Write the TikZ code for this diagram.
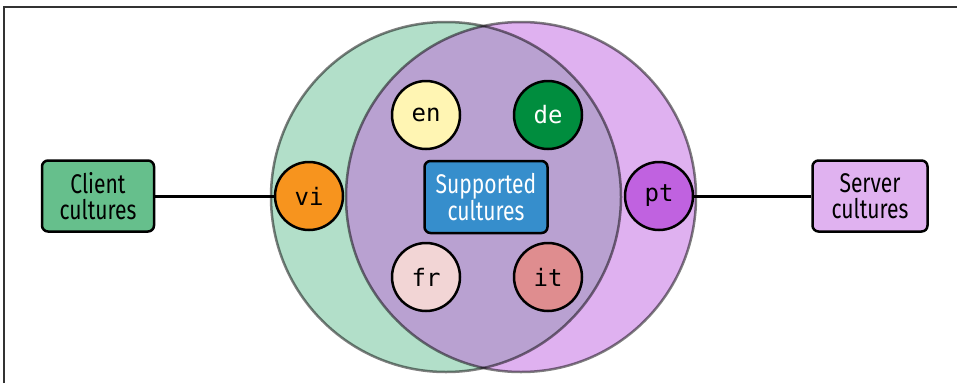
\documentclass[tikz,border=0pt]{standalone}
\usepackage{fontspec}
\setmainfont{Fira Sans}[FakeStretch=0.78]
\setmonofont{DejaVu Sans Mono}
\definecolor{clientgreen}{HTML}{66BF8C}
\definecolor{servpurple}{HTML}{E0B2F0}
\definecolor{setgreen}{HTML}{B2DFC9}
\definecolor{setpurple}{HTML}{DFB1F0}
\definecolor{setboth}{HTML}{B9A1D1}
\definecolor{suppblue}{HTML}{368ECC}
\definecolor{viorange}{HTML}{F7941E}
\definecolor{ptpurple}{HTML}{C062E0}
\definecolor{enyellow}{HTML}{FFF5B3}
\definecolor{degreen}{HTML}{008D3E}
\definecolor{frpink}{HTML}{F2D5D5}
\definecolor{itred}{HTML}{DF8D8F}
\begin{document}
\begin{tikzpicture}[x=1pt,y=-1pt,
  box/.style={draw,line width=2.5,rounded corners=6,align=center,
    minimum height=71,inner sep=0,font=\fontsize{27}{26}\selectfont},
  culture/.style={draw,circle,line width=2.5,minimum size=68,inner sep=0,
    font=\ttfamily\fontsize{24}{24}\selectfont}]
  \useasboundingbox (0,0) rectangle (957,383);
  \draw[line width=2,color=black!80] (4,383) -- (4,7) -- (957,7);

  % the two sets and their overlap
  \fill[setgreen]  (446,197) circle (175);
  \fill[setpurple] (521,197) circle (175);
  \begin{scope}
    \clip (446,197) circle (175);
    \fill[setboth] (521,197) circle (175);
  \end{scope}
  \draw[line width=2.5,opacity=0.5] (446,197) circle (175);
  \draw[line width=2.5,opacity=0.5] (521,197) circle (175);

  \node[box,fill=clientgreen,minimum width=112] (client) at (98,196) {Client\\cultures};
  \node[box,fill=servpurple,minimum width=115] (server) at (870,196) {Server\\cultures};
  \node[box,fill=suppblue,text=white,minimum width=123,minimum height=72] (supported) at (486,197) {Supported\\cultures};

  \node[culture,fill=viorange] (vi) at (309,196) {vi};
  \node[culture,fill=ptpurple] (pt) at (659,196) {pt};
  \node[culture,fill=enyellow] (en) at (426,115) {en};
  \node[culture,fill=degreen,text=white] (de) at (548,115) {de};
  \node[culture,fill=frpink] (fr) at (426,277) {fr};
  \node[culture,fill=itred] (it) at (548,277) {it};

  \draw[line width=3] (client) -- (vi);
  \draw[line width=3] (pt) -- (server);
\end{tikzpicture}
\end{document}
